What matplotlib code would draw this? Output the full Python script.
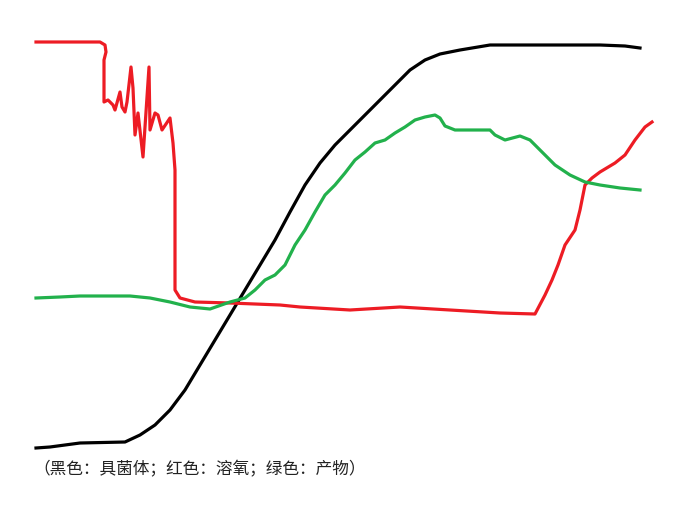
import matplotlib
matplotlib.use("Agg")
import matplotlib.pyplot as plt

plt.rcParams['font.family'] = ['Noto Sans CJK SC', 'DejaVu Sans']

# curves (x to the right, y downwards)
black_x = [36, 50, 80, 125, 140, 155, 170, 185, 200, 215, 230, 245, 260, 275, 290, 305, 320,
           335, 350, 365, 380, 395, 410, 425, 440, 460, 490, 520, 560, 600, 625, 640]
black_y = [448, 447, 443, 442, 435, 425, 410, 390, 365, 340, 315, 290, 265, 240, 212, 185, 163,
           145, 130, 115, 100, 85, 70, 60, 54, 50, 45, 45, 45, 45, 46, 48]

red_x = [36, 100, 105, 106, 104, 104, 108, 113, 115, 120, 122, 125, 127, 131, 133, 135, 138,
         143, 149, 150, 155, 158, 162, 170, 173, 175, 175, 180, 195, 230, 280, 300, 350, 400,
         450, 500, 535, 545, 552, 558, 565, 575, 580, 585, 592, 600, 615, 625, 635, 645, 652]
red_y = [42, 42, 45, 52, 60, 102, 100, 105, 110, 92, 107, 112, 102, 67, 88, 135, 113,
         157, 67, 130, 113, 115, 130, 118, 143, 170, 290, 298, 302, 303, 305, 307, 310, 307,
         310, 313, 314, 295, 280, 265, 245, 230, 210, 185, 178, 172, 163, 155, 140, 127, 122]

green_x = [36, 60, 80, 130, 150, 170, 190, 210, 230, 245, 255, 265, 275, 285, 295, 305, 315,
           325, 335, 345, 355, 365, 375, 385, 395, 405, 415, 425, 435, 440, 445, 455, 470, 490,
           495, 505, 520, 530, 540, 555, 570, 585, 600, 620, 640]
green_y = [298, 297, 296, 296, 298, 302, 307, 309, 302, 298, 290, 280, 275, 265, 245, 230, 212,
           195, 185, 173, 160, 152, 143, 140, 133, 127, 120, 117, 115, 118, 126, 130, 130, 130,
           135, 140, 136, 140, 150, 165, 175, 182, 185, 188, 190]

caption = '（黑色：具菌体；红色：溶氧；绿色：产物）'

fig = plt.figure(figsize=(6.85, 5.11), dpi=100)
ax = fig.add_axes([0, 0, 1, 1])
ax.set_xlim(0, 685)
ax.set_ylim(511, 0)
ax.axis('off')

ax.plot(black_x, black_y, color='black', lw=2.3, solid_joinstyle='round')
ax.plot(red_x, red_y, color='#ED1C24', lw=2.3, solid_joinstyle='round')
ax.plot(green_x, green_y, color='#22B14C', lw=2.3, solid_joinstyle='round')

ax.text(33, 470, caption, fontsize=12, color='#222222', va='center', ha='left')

fig.savefig('out.png', dpi=100)
